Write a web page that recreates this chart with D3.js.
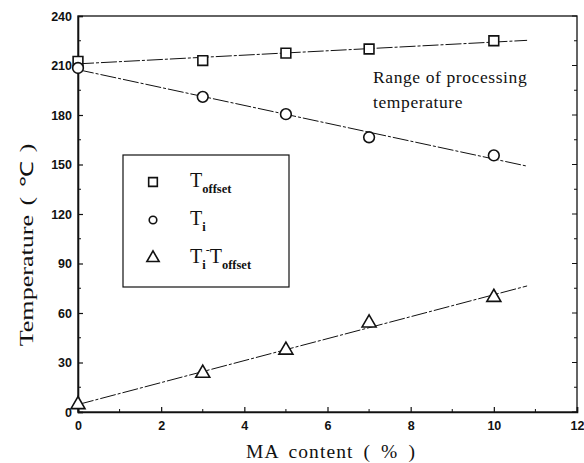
<!DOCTYPE html>
<html>
<head>
<meta charset="utf-8">
<script src="https://cdn.jsdelivr.net/npm/d3@7"></script>
<style>
  body { margin: 0; background: #fff; }
  svg { display: block; }
</style>
</head>
<body>
<svg id="chart" width="584" height="463"></svg>
<script>
// MA content (%) for each sample
const maContent = [0, 3, 5, 7, 10];
// Offset temperature T_offset (°C)
const tOffset = [212.5, 213, 217.5, 220, 225];
// Initial decomposition temperature T_i (°C)
const tI = [208.5, 191, 180.5, 166.5, 155.5];
// Processing window T_i - T_offset (°C)
const tDiff = [4.5, 23.5, 37.5, 54, 69.5];

const xTicks = [0, 2, 4, 6, 8, 10, 12];
const yTicks = [0, 30, 60, 90, 120, 150, 180, 210, 240];

const svg = d3.select("#chart");
const margin = { left: 78, right: 7, top: 16, bottom: 51 };
const W = 584, H = 463;

const x = d3.scaleLinear().domain([0, 12]).range([margin.left, W - margin.right]);
const y = d3.scaleLinear().domain([0, 240]).range([H - margin.bottom, margin.top]);

const ink = "#111";

// frame
svg.append("rect")
  .attr("x", x(0)).attr("y", y(240))
  .attr("width", x(12) - x(0)).attr("height", y(0) - y(240))
  .attr("fill", "none").attr("stroke", ink).attr("stroke-width", 1.3);

// axes with inward ticks
const tickFont = "bold 12.5px 'Liberation Sans', Arial, sans-serif";
const bottomAxis = d3.axisBottom(x).tickValues(xTicks).tickSize(-5).tickPadding(9).tickFormat(d3.format("d"));
const leftAxis = d3.axisLeft(y).tickValues(yTicks).tickSize(-5).tickPadding(6).tickFormat(d3.format("d"));

const gx = svg.append("g").attr("transform", `translate(0,${y(0)})`).call(bottomAxis);
const gy = svg.append("g").attr("transform", `translate(${x(0)},0)`).call(leftAxis);
[gx, gy].forEach(g => {
  g.select(".domain").attr("stroke", ink).attr("stroke-width", 1.6);
  g.selectAll(".tick line").attr("stroke", ink).attr("stroke-width", 1.2);
  g.selectAll("text").style("font", tickFont).attr("fill", ink);
});

// minor ticks
const minorX = d3.range(1, 12, 2);
const minorY = d3.range(15, 240, 30);
svg.append("g").selectAll("line").data(minorX).join("line")
  .attr("x1", d => x(d)).attr("x2", d => x(d))
  .attr("y1", y(0)).attr("y2", y(0) - 3)
  .attr("stroke", ink).attr("stroke-width", 1);
svg.append("g").selectAll("line").data(minorY).join("line")
  .attr("x1", x(0)).attr("x2", x(0) + 3)
  .attr("y1", d => y(d)).attr("y2", d => y(d))
  .attr("stroke", ink).attr("stroke-width", 1);
// right-side ticks
svg.append("g").selectAll("line").data(yTicks.concat(minorY)).join("line")
  .attr("x1", x(12)).attr("x2", d => x(12) - (d % 30 === 0 ? 5 : 3))
  .attr("y1", d => y(d)).attr("y2", d => y(d))
  .attr("stroke", ink).attr("stroke-width", 1);

// least-squares fit lines, extended to x = 10.8
function fit(xs, ys) {
  const mx = d3.mean(xs), my = d3.mean(ys);
  let sxy = 0, sxx = 0;
  xs.forEach((xv, i) => { sxy += (xv - mx) * (ys[i] - my); sxx += (xv - mx) ** 2; });
  const b = sxy / sxx, a = my - b * mx;
  return xv => a + b * xv;
}
const series = [
  { vals: tOffset, shape: d3.symbolSquare },
  { vals: tI, shape: d3.symbolCircle },
  { vals: tDiff, shape: d3.symbolTriangle }
];
const xEnd = 10.8;
series.forEach(s => {
  const f = fit(maContent, s.vals);
  svg.append("line")
    .attr("x1", x(0)).attr("y1", y(f(0)))
    .attr("x2", x(xEnd)).attr("y2", y(f(xEnd)))
    .attr("stroke", ink).attr("stroke-width", 1)
    .attr("stroke-dasharray", "16,2,3,2");
});

// markers
function symSize(shape) {
  if (shape === d3.symbolSquare) return 95;
  if (shape === d3.symbolCircle) return 90;
  return 85;
}
series.forEach(s => {
  svg.append("g").selectAll("path").data(s.vals).join("path")
    .attr("transform", (d, i) => `translate(${x(maContent[i])},${y(d)})`)
    .attr("d", d3.symbol().type(s.shape).size(symSize(s.shape)))
    .attr("fill", "#fff").attr("stroke", ink).attr("stroke-width", 1.6);
});

// annotation
const serif = "'Liberation Serif', 'Times New Roman', serif";
svg.append("text").attr("x", 373).attr("y", 83)
  .style("font-family", serif).style("font-size", "17.5px").style("letter-spacing", "0.6px")
  .attr("fill", ink)
  .text("Range of processing");
svg.append("text").attr("x", 373).attr("y", 108)
  .style("font-family", serif).style("font-size", "17.5px").style("letter-spacing", "0.6px")
  .attr("fill", ink)
  .text("temperature");

// legend
const lg = svg.append("g");
lg.append("rect").attr("x", 123).attr("y", 155).attr("width", 166).attr("height", 132)
  .attr("fill", "#fff").attr("stroke", ink).attr("stroke-width", 1.2);
const legendRows = [
  { shape: d3.symbolSquare, size: 75, cy: 182, parts: [["T", 0], ["offset", 1]] },
  { shape: d3.symbolCircle, size: 45, cy: 220, parts: [["T", 0], ["i", 1]] },
  { shape: d3.symbolTriangle, size: 65, cy: 258, parts: [["T", 0], ["i", 1], ["-", 2], ["T", 0], ["offset", 1]] }
];
legendRows.forEach(r => {
  lg.append("path").attr("transform", `translate(153,${r.cy})`)
    .attr("d", d3.symbol().type(r.shape).size(r.size))
    .attr("fill", "#fff").attr("stroke", ink).attr("stroke-width", 1.6);
  const t = lg.append("text").attr("x", 190).attr("y", r.cy + 5)
    .style("font-family", serif).attr("fill", ink);
  // 0 = base text, 1 = subscript, 2 = raised minus
  const offsets = { 0: 0, 1: 6, 2: -9 };
  let cur = 0;
  r.parts.forEach(([txt, kind]) => {
    const target = offsets[kind];
    const ts = t.append("tspan").text(txt).attr("dy", target - cur);
    cur = target;
    if (kind === 1) ts.style("font-size", "12.5px").style("font-weight", "bold");
    else if (kind === 2) ts.style("font-size", "12px");
    else ts.style("font-size", "20px");
  });
});

// axis titles
svg.append("text")
  .attr("x", 331).attr("y", 458)
  .attr("text-anchor", "middle")
  .style("font-family", serif).style("font-size", "19.5px")
  .style("letter-spacing", "1.1px").style("word-spacing", "4px")
  .attr("fill", ink)
  .text("MA content ( % )");
svg.append("text")
  .attr("transform", `translate(33,245) rotate(-90) scale(1.45,1)`)
  .attr("text-anchor", "middle")
  .style("font-family", serif).style("font-size", "18px")
  .style("word-spacing", "2px").attr("fill", ink)
  .text("Temperature ( ℃ )");
</script>
</body>
</html>
